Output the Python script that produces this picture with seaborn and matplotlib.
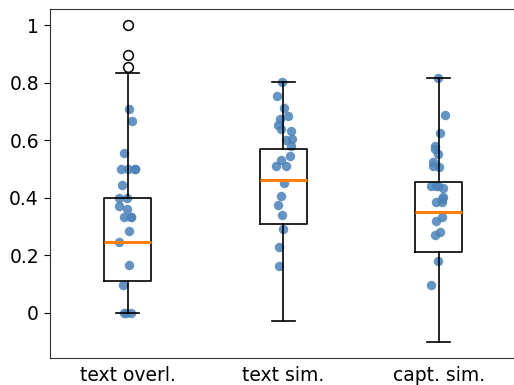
import numpy as np
import pandas as pd
import matplotlib
matplotlib.use("Agg")
import matplotlib.pyplot as plt
import seaborn as sns

# categories on the x axis
labels = ["text overl.", "text sim.", "capt. sim."]

# individual scores shown as dots
text_overlap = [0.71, 0.665, 0.555, 0.5, 0.5, 0.5, 0.5, 0.445, 0.40, 0.398,
                0.372, 0.36, 0.335, 0.334, 0.334, 0.283, 0.245, 0.165, 0.096,
                0.0, 0.0, 0.0]
text_sim = [0.803, 0.755, 0.711, 0.685, 0.672, 0.653, 0.639, 0.632, 0.603,
            0.60, 0.581, 0.546, 0.531, 0.512, 0.512, 0.45, 0.407, 0.375,
            0.34, 0.292, 0.23, 0.164]
capt_sim = [0.815, 0.688, 0.626, 0.58, 0.568, 0.552, 0.523, 0.512, 0.506,
            0.441, 0.441, 0.44, 0.433, 0.402, 0.395, 0.387, 0.384, 0.334,
            0.32, 0.28, 0.271, 0.182, 0.096]

# box summaries
whis_lo = [0.0, -0.028, -0.1]
q1 = [0.111, 0.31, 0.213]
medians = [0.246, 0.462, 0.351]
q3 = [0.399, 0.569, 0.454]
whis_hi = [0.833, 0.803, 0.815]
fliers = [[1.0, 0.896, 0.853], [], []]

df = pd.DataFrame({
    "group": [labels[0]] * len(text_overlap) + [labels[1]] * len(text_sim)
             + [labels[2]] * len(capt_sim),
    "score": text_overlap + text_sim + capt_sim,
})

plt.rcParams["font.size"] = 13.5

fig = plt.figure(figsize=(5.14, 3.85), dpi=100)
ax = fig.add_axes([50 / 514, 27.4 / 385, 470 / 514, 348.4 / 385])

# jittered dots
np.random.seed(3)
sns.stripplot(data=df, x="group", y="score", order=labels, jitter=0.06,
              color="#4a82b8", alpha=0.85, size=6.8, linewidth=0,
              zorder=1, ax=ax)

stats = []
for i in range(3):
    stats.append(dict(med=medians[i], q1=q1[i], q3=q3[i],
                      whislo=whis_lo[i], whishi=whis_hi[i],
                      fliers=fliers[i], label=labels[i]))

ax.bxp(stats, positions=[0, 1, 2], widths=0.3, showfliers=True,
       boxprops=dict(color="black", linewidth=1.2),
       whiskerprops=dict(color="black", linewidth=1.2),
       capprops=dict(color="black", linewidth=1.2),
       medianprops=dict(color="#ff7f0e", linewidth=2.2),
       flierprops=dict(marker="o", markerfacecolor="none",
                       markeredgecolor="black", markersize=7,
                       markeredgewidth=1.1))

# x span chosen so the category centres land where they do in the reference
ax.set_xlim(-0.5, 2.5 + 3.5 / 155.5)
ax.set_ylim(-0.155, 1.055)
ax.set_xticks([0, 1, 2])
ax.set_xticklabels(labels)
ax.set_yticks([0, 0.2, 0.4, 0.6, 0.8, 1.0])
ax.set_yticklabels(["0", "0.2", "0.4", "0.6", "0.8", "1"])
ax.tick_params(axis="x", length=0, pad=6)
ax.tick_params(axis="y", length=4.5)
ax.set_xlabel("")
ax.set_ylabel("")
for s in ax.spines.values():
    s.set_color("#333333")
# the right edge of the frame is cut off in the reference image
ax.spines["right"].set_visible(False)

fig.savefig("out.png", dpi=100)
